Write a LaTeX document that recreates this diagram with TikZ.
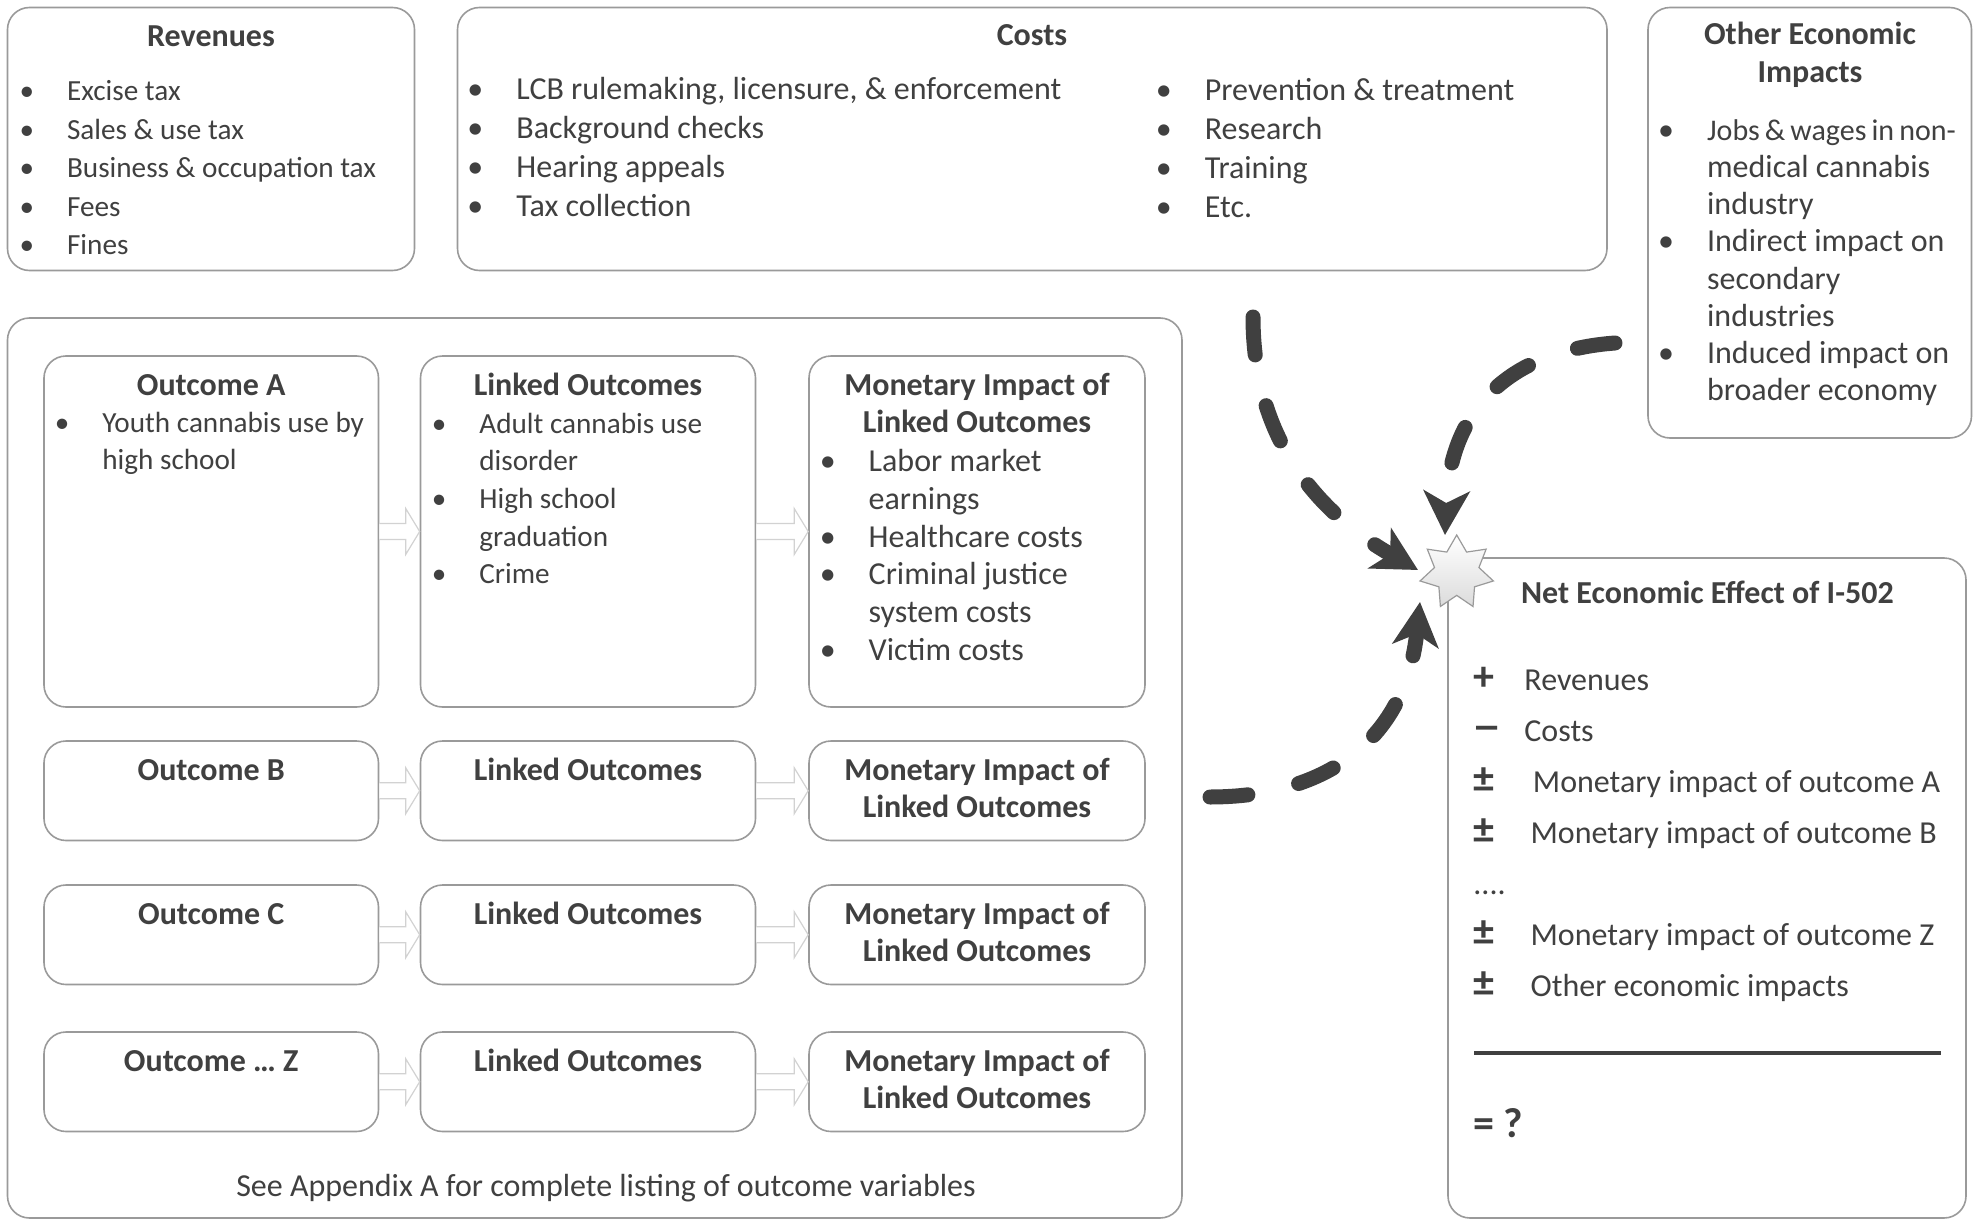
\documentclass[tikz,border=0pt]{standalone}
\usepackage{fontspec}
\setmainfont{Carlito}
\usetikzlibrary{shapes.geometric,arrows.meta,calc,fit}
\definecolor{txt}{HTML}{404040}
\definecolor{rim}{HTML}{9A9A9A}
\definecolor{ghost}{HTML}{D2D2D2}
\newcommand{\itemlist}[1]{\begin{tabular}[t]{@{}l@{}}#1\end{tabular}}
\newcommand{\stack}[1]{\begin{tabular}[t]{@{}c@{}}#1\end{tabular}}
\newcommand{\bul}{\llap{\textbullet\hspace{16.5pt}}}
\newcommand{\netsym}[2][25.5pt]{\makebox[#1][l]{\fontsize{21}{21}\selectfont\bfseries #2}}
\newcommand{\hollowarrow}[2]{%
  \draw[harrow] ($(#1.east)+(0,-8)$) -- ($(#2.west)+(-14,-8)$) -- ($(#2.west)+(-14,-23)$)
    -- (#2.west) -- ($(#2.west)+(-14,23)$) -- ($(#2.west)+(-14,8)$) -- ($(#1.east)+(0,8)$);}
\begin{document}
\begin{tikzpicture}[x=0.5pt,y=-0.5pt,
    box/.style={draw=rim,line width=0.8pt,rounded corners=11pt,fill=white,inner sep=0pt},
    ttl/.style={text=txt,inner sep=0pt,anchor=base,font=\fontsize{16}{18.75}\selectfont\bfseries},
    lst/.style={text=txt,inner sep=0pt,anchor=base west,font=\fontsize{14.6}{18.8}\selectfont},
    biglst/.style={lst,font=\fontsize{16}{19.4}\selectfont},
    harrow/.style={draw=ghost,fill=white,line width=0.6pt},
    flow/.style={draw=txt,line width=7.5pt,line cap=round,dash pattern=on 19pt off 26pt,
      -{Stealth[length=22pt,width=23pt,inset=6pt]}}]
\useasboundingbox (0,0) rectangle (1980,1220);
% revenues and costs
\node[box,fit={(7.5,7.5) (414.5,270.5)}] (rev) {};
\node[ttl] (revT) at (211,46.7) {Revenues};
\node[lst,font=\fontsize{14.6}{19.25}\selectfont] (revlist) at (66.7,101) {\itemlist{\bul Excise tax\\
  \bul Sales \& use tax\\ \bul Business \& occupation tax\\ \bul Fees\\ \bul Fines}};
\node[box,fit={(457.5,7.5) (1607,270.5)}] (costs) {};
\node[ttl] (costsT) at (1032,46) {Costs};
\node[biglst] (costL) at (516,100) {\itemlist{\bul LCB rulemaking, licensure, \& enforcement\\
  \bul Background checks\\ \bul Hearing appeals\\ \bul Tax collection}};
\node[biglst] (costR) at (1204.5,101) {\itemlist{\bul Prevention \& treatment\\
  \bul Research\\ \bul Training\\ \bul Etc.}};
% other economic impacts
\node[box,fit={(1648,7.5) (1971.5,438)}] (other) {};
\node[ttl,font=\fontsize{16}{19}\selectfont\bfseries] (otherT) at (1810,45) {\stack{Other Economic\\Impacts}};
\node[biglst,font=\fontsize{16}{18.57}\selectfont] (otherlist) at (1706.7,140.5) {\itemlist{%
  \bul {\fontsize{15}{18.57}\selectfont\spaceskip=0.17em Jobs \& wages in non-}\\ medical cannabis\\ industry\\
  \bul Indirect impact on\\ secondary\\ industries\\
  \bul Induced impact on\\ broader economy}};
% outcomes
\node[box,fit={(7.5,318) (1182,1218)}] (outcomes) {};
\node[box,fit={(44,356) (378.5,707)}] (oA) {};
\node[box,fit={(420.5,356) (755.5,707)}] (lA) {};
\node[box,fit={(809,356) (1145,707)}] (mA) {};
\node[ttl] (oAT) at (211.25,395.5) {Outcome A};
\node[ttl] (lAT) at (588,395.5) {Linked Outcomes};
\node[ttl] (mAT) at (977,395) {\stack{Monetary Impact of\\Linked Outcomes}};
\node[lst] (oAlist) at (102,432) {\itemlist{\bul Youth cannabis use by\\ high school}};
\node[lst] (lAlist) at (479,433.3) {\itemlist{\bul Adult cannabis use\\ disorder\\
  \bul High school\\ graduation\\ \bul Crime}};
\node[biglst,font=\fontsize{16}{18.83}\selectfont] (mAlist) at (868.3,471.7) {\itemlist{%
  \bul Labor market\\ earnings\\ \bul Healthcare costs\\ \bul Criminal justice\\
  system costs\\ \bul Victim costs}};
\hollowarrow{oA}{lA}
\hollowarrow{lA}{mA}
\foreach \r/\yy/\lab in {B/741/B, C/885/C, Z/1032/{\ldots\ Z}} {
  \node[box,fit={(44,\yy) (378.5,\yy+99.5)}] (o\r) {};
  \node[box,fit={(420.5,\yy) (755.5,\yy+99.5)}] (l\r) {};
  \node[box,fit={(809,\yy) (1145,\yy+99.5)}] (m\r) {};
  \node[ttl] (o\r T) at (211.25,\yy+39) {Outcome \lab};
  \node[ttl] (l\r T) at (588,\yy+39) {Linked Outcomes};
  \node[ttl] (m\r T) at (977,\yy+39) {\stack{Monetary Impact of\\Linked Outcomes}};
  \hollowarrow{o\r}{l\r}
  \hollowarrow{l\r}{m\r}
}
\node[lst,anchor=base,font=\fontsize{16}{19}\selectfont] (seeA) at (606,1196.7)
  {See Appendix A for complete listing of outcome variables};
% net effect
\node[box,fit={(1448,558) (1966,1218)}] (net) {};
\node[ttl] (netT) at (1707.4,603.3) {Net Economic Effect of I-502};
\node[lst,font=\fontsize{16}{25.5}\selectfont] (netlist) at (1473,690) {\itemlist{%
  \netsym{+}Revenues\\ \netsym{\scalebox{1.3}[1]{−}}Costs\\
  \netsym[29.75pt]{±}Monetary impact of outcome A\\
  \netsym[28.6pt]{±}Monetary impact of outcome B\\
  ....\\
  \netsym[28.6pt]{±}Monetary impact of outcome Z\\
  \netsym[28.6pt]{±}Other economic impacts}};
\draw[txt,line width=1.8pt] (1474,1053) -- (1941,1053);
\node[lst,font=\fontsize{21}{21}\selectfont\bfseries] (result) at (1473,1137.3) {= ?};
\node[star,star points=7,star point ratio=1.65,minimum size=37.6pt,inner sep=0pt,
  draw=rim,line width=0.6pt,top color=white,bottom color=black!14] (burst) at (1456.7,572.6) {};
% dashed flows into the star
\coordinate (costsrc) at (1253,317);
\coordinate (othersrc) at (1615,343);
\coordinate (outsrc) at (1210,797);
\draw[flow] (costsrc) .. controls (1253,450) and (1330,520) .. ($(burst.center)+(-38.7,-2.6)$);
\draw[flow] (othersrc) .. controls (1520,350) and (1450,400) .. ($(burst.center)+(-11.7,-37.6)$);
\draw[flow] (outsrc) .. controls (1320,797) and (1405,745) .. ($(burst.center)+(-36.7,29.4)$);
\end{tikzpicture}
\end{document}
